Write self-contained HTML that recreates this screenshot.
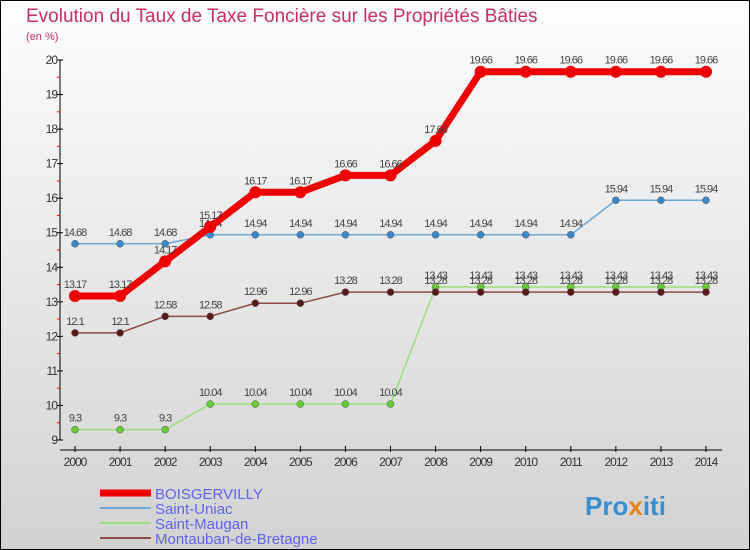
<!DOCTYPE html>
<html><head><meta charset="utf-8"><style>
body{margin:0}
#c{width:750px;height:550px;position:relative;box-sizing:border-box;border:1px solid #000;background:linear-gradient(#fdfdfd,#d2d2d2);font-family:"Liberation Sans",sans-serif;overflow:hidden}
</style></head><body>
<div id="c">
<svg id="s" width="750" height="550" style="position:absolute;left:-1px;top:-1px">
<text x="26" y="22" font-size="19" fill="#c8305e">Evolution du Taux de Taxe Foncière sur les Propriétés Bâties</text>
<text x="26" y="40" font-size="11" fill="#c8305e">(en %)</text>
<g id="ax"></g><g id="ser"></g><g id="leg"></g>
<text x="585" y="515" font-size="26" font-weight="bold" fill="#3a8fd0">Pro<tspan fill="#e8821e">x</tspan>iti</text>
</svg>
</div>
<script>
const years=[2000,2001,2002,2003,2004,2005,2006,2007,2008,2009,2010,2011,2012,2013,2014];
const yTicks=[9,10,11,12,13,14,15,16,17,18,19,20];
const boisgervilly=[13.17,13.17,14.17,15.17,16.17,16.17,16.66,16.66,17.66,19.66,19.66,19.66,19.66,19.66,19.66];
const saintUniac=[14.68,14.68,14.68,14.94,14.94,14.94,14.94,14.94,14.94,14.94,14.94,14.94,15.94,15.94,15.94];
const saintMaugan=[9.3,9.3,9.3,10.04,10.04,10.04,10.04,10.04,13.43,13.43,13.43,13.43,13.43,13.43,13.43];
const montauban=[12.1,12.1,12.58,12.58,12.96,12.96,13.28,13.28,13.28,13.28,13.28,13.28,13.28,13.28,13.28];
const seriesNames=["BOISGERVILLY","Saint-Uniac","Saint-Maugan","Montauban-de-Bretagne"];
const NS="http://www.w3.org/2000/svg";
const X=i=>75+i*(706-75)/(years.length-1);
const Y=v=>440-(v-9)*(380/11);
function mk(tag,at,par){const e=document.createElementNS(NS,tag);for(const k in at)e.setAttribute(k,at[k]);par.appendChild(e);return e;}
const ax=document.getElementById('ax');
let l=mk('line',{x1:60,y1:60,x2:60,y2:440,stroke:'#000'},ax);


l=mk('line',{x1:60,y1:450,x2:722,y2:450,stroke:'#000'},ax);


yTicks.forEach(v=>{
 mk('line',{x1:57,y1:Y(v),x2:63,y2:Y(v),stroke:'#000'},ax);
 if(v<20)mk('line',{x1:57,y1:Y(v+0.5),x2:60,y2:Y(v+0.5),stroke:'#f00'},ax);
 const t=mk('text',{x:57,y:Y(v)+4,'font-size':12,'text-anchor':'end',fill:'#333','letter-spacing':'-1'},ax);
 t.textContent=v;
 
 
});
years.forEach((yr,i)=>{
 mk('line',{x1:X(i),y1:446,x2:X(i),y2:452,stroke:'#000'},ax);
 const t=mk('text',{x:X(i),y:466,'font-size':12,'text-anchor':'middle',fill:'#333','letter-spacing':'-1'},ax);
 t.textContent=yr;
 
 
});
const ser=document.getElementById('ser');
const defs=[[saintMaugan,'#99e07a','#66cc33',1.5,3.5,'saint-maugan'],[montauban,'#8a4a4a','#5a1a1a',1.5,3.5,'montauban'],[saintUniac,'#6aa8d8','#3a88c8',1.5,3.5,'saint-uniac'],[boisgervilly,'#ee0000','#ee0000',7,6,'boisgervilly']];
defs.forEach(([d,lc,pc,w,r,n])=>{
 const p=mk('polyline',{points:d.map((v,i)=>X(i)+','+Y(v)).join(' '),fill:'none',stroke:lc,'stroke-width':w,'stroke-linejoin':'round'},ser);
 
 
 d.forEach((v,i)=>{
  const c=mk('circle',{cx:X(i),cy:Y(v),r:r,fill:pc,stroke:n==='boisgervilly'?'none':'#555','stroke-width':0.5},ser);
  
  
  const t=mk('text',{x:X(i),y:Y(v)-8,'font-size':11,'text-anchor':'middle',fill:'#444','letter-spacing':'-1'},ser);
  t.textContent=v;
  
  
 });
});
const leg=document.getElementById('leg');
const lc=['#ee0000','#6aa8d8','#99e07a','#8a4a4a'],lw=[7,2,2,2];
seriesNames.forEach((n,i)=>{
 const y=493+i*15;
 const ln=mk('line',{x1:100,y1:y,x2:151,y2:y,stroke:lc[i],'stroke-width':lw[i]},leg);
 
 
 const t=mk('text',{x:155,y:y+6,'font-size':15,fill:'#6262f0'},leg);
 t.textContent=n;
 
 
});
</script>
</body></html>
